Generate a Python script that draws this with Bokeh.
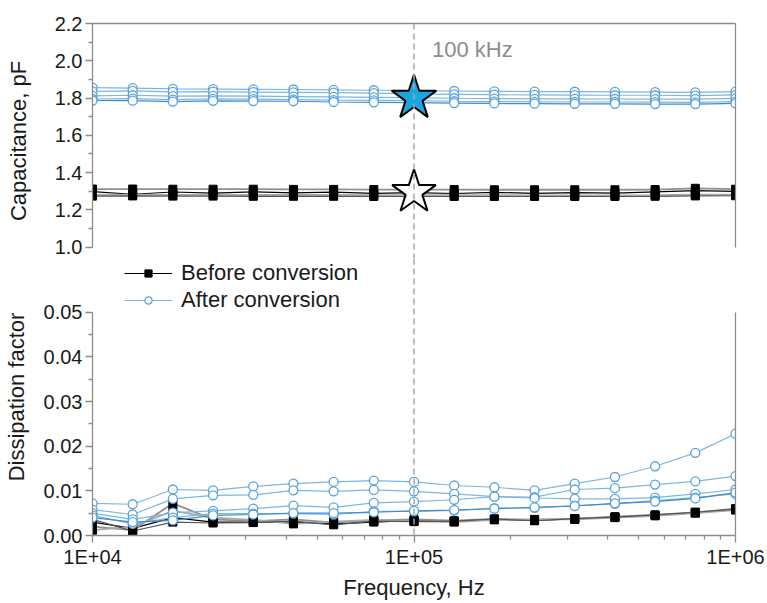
from bokeh.plotting import figure
from bokeh.models import (Range1d, LinearAxis, LogAxis, FixedTicker, PrintfTickFormatter,
                          CustomJSTickFormatter, Span, Label, Legend, LegendItem)
from bokeh.layouts import column
from bokeh.embed import file_html
from bokeh.resources import INLINE

# ---------------- data ----------------
freq = [10000, 13335, 17783, 23714, 31623, 42170, 56234, 74989, 100000,
        133352, 177828, 237137, 316228, 421697, 562341, 749894, 1000000]

# capacitance (pF) after conversion
cap_after_1 = [1.856, 1.853, 1.849, 1.848, 1.847, 1.846, 1.844, 1.842, 1.840, 1.838, 1.836, 1.835, 1.834, 1.833, 1.832, 1.831, 1.834]
cap_after_2 = [1.836, 1.839, 1.833, 1.834, 1.832, 1.830, 1.829, 1.826, 1.822, 1.820, 1.818, 1.817, 1.816, 1.815, 1.815, 1.813, 1.817]
cap_after_3 = [1.812, 1.815, 1.810, 1.812, 1.810, 1.808, 1.806, 1.804, 1.802, 1.799, 1.797, 1.796, 1.796, 1.795, 1.794, 1.794, 1.798]
cap_after_4 = [1.795, 1.797, 1.792, 1.796, 1.794, 1.792, 1.789, 1.788, 1.786, 1.783, 1.781, 1.780, 1.779, 1.779, 1.778, 1.777, 1.781]
cap_after_5 = [1.787, 1.786, 1.781, 1.785, 1.784, 1.783, 1.779, 1.777, 1.775, 1.773, 1.771, 1.770, 1.769, 1.769, 1.768, 1.768, 1.772]

# capacitance (pF) before conversion
cap_before_1 = [1.298, 1.284, 1.296, 1.290, 1.297, 1.291, 1.295, 1.289, 1.293, 1.288, 1.294, 1.289, 1.293, 1.290, 1.297, 1.303, 1.299]
cap_before_2 = [1.312, 1.312, 1.311, 1.311, 1.311, 1.310, 1.310, 1.309, 1.309, 1.309, 1.308, 1.308, 1.308, 1.308, 1.309, 1.316, 1.311]
cap_before_3 = [1.281, 1.282, 1.281, 1.281, 1.280, 1.280, 1.280, 1.279, 1.279, 1.279, 1.279, 1.278, 1.278, 1.278, 1.279, 1.282, 1.282]
cap_before_4 = [1.274, 1.275, 1.274, 1.274, 1.273, 1.273, 1.273, 1.272, 1.272, 1.272, 1.272, 1.272, 1.272, 1.272, 1.273, 1.275, 1.276]

# dissipation factor after conversion
df_after_1 = [0.0072, 0.0070, 0.0103, 0.0101, 0.0110, 0.0116, 0.0120, 0.0123, 0.0120, 0.0112, 0.0108, 0.0101, 0.0116, 0.0131, 0.0155, 0.0185, 0.0228]
df_after_2 = [0.0058, 0.0047, 0.0082, 0.0090, 0.0091, 0.0101, 0.0099, 0.0102, 0.0099, 0.0093, 0.0087, 0.0086, 0.0103, 0.0106, 0.0114, 0.0121, 0.0133]
df_after_3 = [0.0050, 0.0036, 0.0051, 0.0055, 0.0060, 0.0067, 0.0063, 0.0073, 0.0076, 0.0080, 0.0087, 0.0084, 0.0082, 0.0082, 0.0085, 0.0093, 0.0103]
df_after_4 = [0.0045, 0.0026, 0.0040, 0.0049, 0.0049, 0.0049, 0.0047, 0.0054, 0.0054, 0.0056, 0.0061, 0.0062, 0.0067, 0.0071, 0.0078, 0.0085, 0.0093]
df_after_5 = [0.0040, 0.0030, 0.0034, 0.0045, 0.0047, 0.0050, 0.0050, 0.0052, 0.0055, 0.0057, 0.0060, 0.0063, 0.0066, 0.0072, 0.0076, 0.0083, 0.0096]

# dissipation factor before conversion
df_before_1 = [0.0030, 0.0016, 0.0040, 0.0030, 0.0030, 0.0030, 0.0026, 0.0030, 0.0034, 0.0031, 0.0036, 0.0034, 0.0037, 0.0041, 0.0045, 0.0051, 0.0058]
df_before_2 = [0.0020, 0.0012, 0.0072, 0.0036, 0.0032, 0.0036, 0.0029, 0.0034, 0.0036, 0.0033, 0.0037, 0.0035, 0.0038, 0.0042, 0.0046, 0.0052, 0.0060]
df_before_3 = [0.0012, 0.0020, 0.0055, 0.0040, 0.0035, 0.0026, 0.0031, 0.0035, 0.0032, 0.0030, 0.0035, 0.0036, 0.0036, 0.0040, 0.0044, 0.0050, 0.0057]
df_before_4 = [0.0036, 0.0010, 0.0030, 0.0028, 0.0029, 0.0032, 0.0024, 0.0032, 0.0031, 0.0032, 0.0037, 0.0033, 0.0038, 0.0041, 0.0046, 0.0052, 0.0059]

# highlighted points at 100 kHz
star_freq = [100000]
star_cap_after = [1.80]
star_cap_before = [1.295]
marker_freq = 100000
marker_text = "100 kHz"

cap_ticks = [1.0, 1.2, 1.4, 1.6, 1.8, 2.0, 2.2]
cap_minor = [1.1, 1.3, 1.5, 1.7, 1.9, 2.1]
df_ticks = [0.0, 0.01, 0.02, 0.03, 0.04, 0.05]
df_minor = [0.005, 0.015, 0.025, 0.035, 0.045]
x_ticks = [10000, 100000, 1000000]
x_minor = [20000, 30000, 40000, 50000, 60000, 70000, 80000, 90000,
           200000, 300000, 400000, 500000, 600000, 700000, 800000, 900000]
x_tick_labels = ["1E+04", "1E+05", "1E+06"]

# ---------------- style ----------------
FONT = "Liberation Sans"
AX = "#8c8c8c"
TXT = "#1a1a1a"
BLUE_LINE = "#7db6e2"
BLUE_MARK = "#5aa2d8"
BLUE_DARK = "#3d8bd0"
before_colors = ["#000000", "#8f8f8f", "#a8a8a8", "#555555"]
before_widths = [1.2, 1.8, 1.8, 1.2]
after_colors = [BLUE_LINE, BLUE_LINE, BLUE_LINE, BLUE_LINE, BLUE_DARK]

W = 767
ML, MR = 90, 32


def style_axis(ax, standoff):
    ax.axis_line_color = AX
    ax.axis_line_width = 1.3
    ax.major_tick_line_color = AX
    ax.major_tick_line_width = 1.3
    ax.minor_tick_line_color = AX
    ax.minor_tick_line_width = 1.3
    ax.major_tick_in = 0
    ax.major_tick_out = 7
    ax.minor_tick_in = 0
    ax.minor_tick_out = 4
    ax.major_label_text_font = FONT
    ax.major_label_text_font_size = "20px"
    ax.major_label_text_color = TXT
    ax.major_label_standoff = 3
    ax.axis_label_text_font = FONT
    ax.axis_label_text_font_size = "22px"
    ax.axis_label_text_font_style = "normal"
    ax.axis_label_text_color = TXT
    ax.axis_label_standoff = standoff


def border_axis(**kw):
    ax = LinearAxis(ticker=FixedTicker(ticks=[], minor_ticks=[]), **kw)
    ax.axis_line_color = AX
    ax.axis_line_width = 1.3
    ax.major_tick_line_color = None
    ax.minor_tick_line_color = None
    ax.major_label_text_font_size = "0px"
    return ax


# ---------------- top panel: capacitance ----------------
top = figure(width=W, height=258, x_axis_type="log",
             x_range=Range1d(1e4, 1e6), y_range=Range1d(0.9393, 2.2),
             x_axis_location=None, y_axis_location=None,
             output_backend="svg", toolbar_location=None,
             min_border_left=ML, min_border_right=MR, min_border_top=23, min_border_bottom=0)
top.outline_line_color = None
top.grid.grid_line_color = None
top.background_fill_color = "white"
top.border_fill_color = "white"

ya = LinearAxis(bounds=(1.0, 2.2), ticker=FixedTicker(ticks=cap_ticks, minor_ticks=cap_minor),
                formatter=PrintfTickFormatter(format="%.1f"), axis_label="Capacitance, pF")
style_axis(ya, 21)
top.add_layout(ya, "left")
top.add_layout(border_axis(bounds=(1.0, 2.2)), "right")
top.add_layout(border_axis(), "above")

top.add_layout(Span(location=marker_freq, dimension="height", line_color="#a6a6a6",
                    line_width=1.5, line_dash="6 4"))

before_caps = [cap_before_1, cap_before_2, cap_before_3, cap_before_4]
for ys, c, w in zip(before_caps, before_colors, before_widths):
    top.line(freq, ys, line_color=c, line_width=w)
    top.scatter(freq, ys, marker="square", size=8, fill_color="black", line_color="black")

after_caps = [cap_after_1, cap_after_2, cap_after_3, cap_after_4, cap_after_5]
for ys, c in zip(after_caps, after_colors):
    top.line(freq, ys, line_color=c, line_width=1.2)
    top.scatter(freq, ys, marker="circle", size=9, fill_color="white",
                line_color=BLUE_MARK, line_width=1.3)

top.scatter(star_freq, star_cap_after, marker="star", size=47, fill_color="#19a7e3",
            line_color="black", line_width=2)
top.scatter(star_freq, star_cap_before, marker="star", size=46, fill_color="white",
            line_color="black", line_width=2)

top.add_layout(Label(x=marker_freq, y=2.06, x_offset=18, text=marker_text, text_font=FONT,
                     text_font_size="22px", text_color="#8c8c8c", text_baseline="alphabetic"))

# ---------------- bottom panel: dissipation factor ----------------
bot = figure(width=W, height=345, x_axis_type="log",
             x_range=Range1d(1e4, 1e6), y_range=Range1d(0.0, 0.06202),
             x_axis_location=None, y_axis_location=None,
             output_backend="svg", toolbar_location=None,
             min_border_left=ML, min_border_right=MR, min_border_top=0, min_border_bottom=68)
bot.outline_line_color = None
bot.grid.grid_line_color = None
bot.background_fill_color = "white"
bot.border_fill_color = "white"

yb = LinearAxis(bounds=(0.0, 0.05), ticker=FixedTicker(ticks=df_ticks, minor_ticks=df_minor),
                formatter=PrintfTickFormatter(format="%.2f"), axis_label="Dissipation factor")
style_axis(yb, 12)
bot.add_layout(yb, "left")

xb = LogAxis(ticker=FixedTicker(ticks=x_ticks, minor_ticks=x_minor),
             formatter=CustomJSTickFormatter(args=dict(labels=x_tick_labels),
                                             code="return labels[index];"),
             axis_label="Frequency, Hz")
style_axis(xb, 4)
bot.add_layout(xb, "below")
bot.add_layout(border_axis(bounds=(0.0, 0.05)), "right")

bot.add_layout(Span(location=marker_freq, dimension="height", line_color="#a6a6a6",
                    line_width=1.5, line_dash="6 4"))

before_dfs = [df_before_1, df_before_2, df_before_3, df_before_4]
leg_b = []
for ys, c, w in zip(before_dfs, before_colors, before_widths):
    l = bot.line(freq, ys, line_color=c, line_width=w)
    s = bot.scatter(freq, ys, marker="square", size=8, fill_color="black", line_color="black")
    if not leg_b:
        leg_b = [l, s]

after_dfs = [df_after_1, df_after_2, df_after_3, df_after_4, df_after_5]
leg_a = []
for ys, c in zip(after_dfs, after_colors):
    l = bot.line(freq, ys, line_color=c, line_width=1.2)
    s = bot.scatter(freq, ys, marker="circle", size=9, fill_color="white",
                    line_color=BLUE_MARK, line_width=1.3)
    if not leg_a:
        leg_a = [l, s]

legend = Legend(items=[LegendItem(label="Before conversion", renderers=leg_b),
                       LegendItem(label="After conversion", renderers=leg_a)],
                location=(32, 222), orientation="vertical",
                glyph_width=48, glyph_height=18, label_height=26, label_standoff=9,
                spacing=1, padding=0, margin=0,
                label_text_font=FONT, label_text_font_size="22px", label_text_color=TXT,
                border_line_color=None, background_fill_alpha=0)
bot.add_layout(legend)

layout = column(top, bot)
open("out.html", "w").write(file_html(layout, INLINE))
